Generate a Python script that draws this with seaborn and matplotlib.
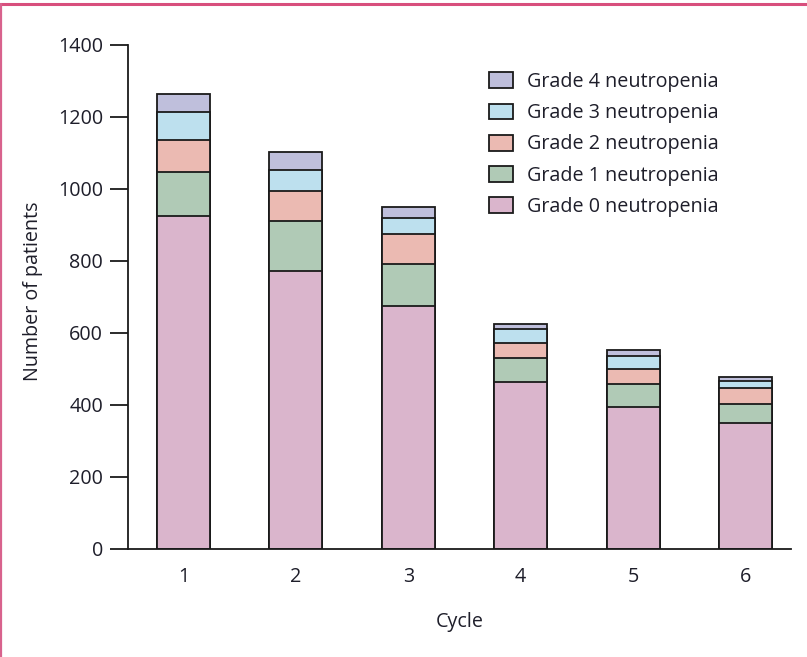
import numpy as np
import pandas as pd
import matplotlib
matplotlib.use("Agg")
import matplotlib.pyplot as plt
import seaborn as sns
from matplotlib.patches import Patch
from matplotlib.lines import Line2D

# Patients per neutropenia grade, by treatment cycle
cycles = ["1", "2", "3", "4", "5", "6"]
grade0 = [924, 772, 675, 463, 394, 349]
grade1 = [123, 138, 117, 68, 64, 55]
grade2 = [88, 84, 83, 40, 43, 44]
grade3 = [78, 58, 44, 39, 35, 20]
grade4 = [51, 51, 31, 15, 16, 11]

grade_labels = ["Grade 0 neutropenia", "Grade 1 neutropenia", "Grade 2 neutropenia",
                "Grade 3 neutropenia", "Grade 4 neutropenia"]
grade_colors = ["#dab5cc", "#b0cab6", "#ebbab2", "#bde0ee", "#bfbfdc"]

sns.set_theme(style="white")
plt.rcParams["font.family"] = ["Open Sans", "DejaVu Sans"]
text_color = "#1e1e2a"
fs = 14.2

fig = plt.figure(figsize=(8.07, 6.57), dpi=100)
W, H = 807, 657
ax = fig.add_axes([128 / W, (H - 549) / H, (791 - 128) / W, (549 - 45) / H])

# Stacked bars: draw cumulative totals from the tallest layer down
layers = np.array([grade0, grade1, grade2, grade3, grade4], dtype=float)
cum = np.cumsum(layers, axis=0)
for i in range(len(layers) - 1, -1, -1):
    df = pd.DataFrame({"Cycle": cycles, "Patients": cum[i]})
    sns.barplot(data=df, x="Cycle", y="Patients", color=grade_colors[i],
                saturation=1, width=0.472, edgecolor="#1a1a1a", linewidth=1.3,
                ax=ax, zorder=2 + (len(layers) - i))

ax.set_ylim(0, 1400)
ax.set_xlim(-0.494, 5.405)
ax.set_yticks(range(0, 1401, 200))

for side in ["top", "right"]:
    ax.spines[side].set_visible(False)
for side in ["left", "bottom"]:
    ax.spines[side].set_color("#1a1a1a")
    ax.spines[side].set_linewidth(1.3)
    ax.spines[side].set_zorder(20)

ax.tick_params(axis="y", which="major", direction="out", length=13, width=1.3,
               color="#1a1a1a", pad=5, labelsize=fs, labelcolor=text_color, left=True)
ax.tick_params(axis="x", length=0, pad=13, labelsize=fs, labelcolor=text_color)

ax.set_xlabel("Cycle", fontsize=fs, color=text_color, labelpad=18)
ax.set_ylabel("Number of patients", fontsize=fs, color=text_color)
ax.yaxis.set_label_coords(-0.128, 0.512)

handles = [Patch(facecolor=grade_colors[i], edgecolor="#1a1a1a", linewidth=1.3,
                 label=grade_labels[i]) for i in range(4, -1, -1)]
fig.legend(handles=handles, loc="upper left", bbox_to_anchor=(489 / W, 1 - 72 / H),
           bbox_transform=fig.transFigure, frameon=False, fontsize=fs,
           handlelength=1.2, handleheight=0.85, handletextpad=0.75,
           labelspacing=0.57, borderpad=0, borderaxespad=0, labelcolor=text_color)

# Page frame in the journal's accent colour (top and left edges)
fig.add_artist(Line2D([0, 1], [1 - 4 / H, 1 - 4 / H], transform=fig.transFigure,
                      color="#d84f7d", linewidth=2.2))
fig.add_artist(Line2D([1 / W, 1 / W], [0, 1 - 4 / H], transform=fig.transFigure,
                      color="#d8628d", linewidth=1.6))

fig.savefig("out.png", dpi=100, facecolor="white")
